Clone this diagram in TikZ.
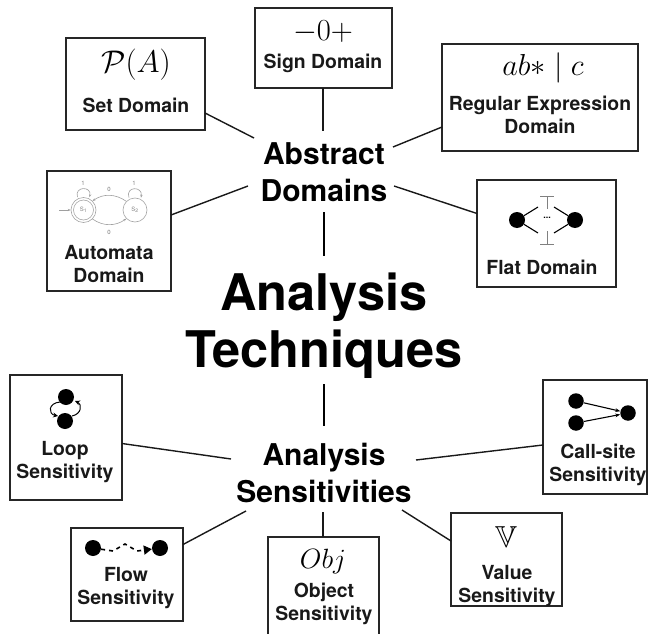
\documentclass[tikz,border=0pt]{standalone}
\usepackage{fontspec}
\usepackage{amsmath,amssymb}
\setmainfont{TeX Gyre Heros}
\usetikzlibrary{arrows.meta,calc}
\tikzset{
 box/.style={draw=black!85,line width=1.3pt,minimum width=#1,inner sep=0pt,outer sep=0pt,anchor=north west},
 lbl/.style={font=\bfseries\fontsize{19.4}{23}\selectfont,align=center,inner sep=0pt,text=black!90},
 mid/.style={font=\bfseries\fontsize{30}{37}\selectfont,align=center,inner sep=0pt},
 big/.style={font=\bfseries\fontsize{50.5}{57}\selectfont,align=center,inner sep=0pt},
 sym/.style={font=\fontsize{24.88}{30}\selectfont,inner sep=0pt},
 conn/.style={line width=1.4pt,black!90},
 hub/.style={line width=2.4pt,black},
 dot/.style={circle,fill=black,inner sep=0pt,minimum size=#1},
 gr/.style={gray!75,line width=0.6pt},
 tiny/.style={font=\fontsize{6}{7}\selectfont,text=gray,inner sep=0pt},
}
\begin{document}
\begin{tikzpicture}[x=1pt,y=-1pt]
\useasboundingbox (0,0) rectangle (651,634);
% boxes
\node[box=139pt,minimum height=92pt] (setb) at (66,38) {};
\node[box=137pt,minimum height=80pt] (signb) at (255,8) {};
\node[box=196pt,minimum height=107pt] (rexb) at (442,44) {};
\node[box=124pt,minimum height=120pt] (autob) at (47,171) {};
\node[box=139pt,minimum height=107pt] (flatb) at (477,180) {};
\node[box=112pt,minimum height=125pt] (loopb) at (10,375) {};
\node[box=112pt,minimum height=93pt] (flowb) at (71,528) {};
\node[box=111pt,minimum height=100pt] (objb) at (268,537) {};
\node[box=111pt,minimum height=93pt] (valb) at (451,513) {};
\node[box=104pt,minimum height=114pt] (callb) at (543,380) {};
% centre texts
\node[mid] (abs) at (324,172) {Abstract\\Domains};
\node[big] (tech) at (324,326) {Analysis\\Techniques};
\node[mid] (sens) at (324,473) {Analysis\\Sensitivities};
% box labels
\node[sym] (setsym) at (136,65) {\scalebox{1.26}{$\mathcal{P}(A)$}};
\node[lbl] (settxt) at (136,105) {Set Domain};
\node[sym] (signsym) at (323,32) {\scalebox{1.23}{$-0+$}};
\node[lbl] (signtxt) at (323,63) {Sign Domain};
\node[sym] (rexsym) at (543,68) {\scalebox{1.22}{$ab{*}\mid c$}};
\node[lbl] (rextxt) at (540,115) {Regular Expression\\Domain};
\node[lbl] (autotxt) at (109,264) {Automata\\Domain};
\node[lbl] (flattxt) at (542,267) {Flat Domain};
\node[lbl] (looptxt) at (65,462) {Loop\\Sensitivity};
\node[lbl] (flowtxt) at (126,588) {Flow\\Sensitivity};
\node[sym] (objsym) at (323,562) {\scalebox{1.12}{$Obj$}};
\node[lbl] (objtxt) at (324,604) {Object\\Sensitivity};
\node[sym] (valsym) at (506,537) {\scalebox{1.22}{$\mathbb{V}$}};
\node[lbl] (valtxt) at (507,586) {Value\\Sensitivity};
\node[lbl] (calltxt) at (598,465) {Call-site\\Sensitivity};
% connectors
\coordinate (a1) at (254,138); \coordinate (a2) at (323,131); \coordinate (a3) at (393,147);
\coordinate (a4) at (248,186); \coordinate (a5) at (394,186);
\coordinate (t1) at (324,212); \coordinate (t2) at (324,256);
\coordinate (t3) at (324,384); \coordinate (t4) at (324,426);
\coordinate (s1) at (231,459); \coordinate (s2) at (416,460); \coordinate (s3) at (246,511);
\coordinate (s4) at (323,512); \coordinate (s5) at (402,510);
\draw[conn] ([yshift=17pt]setb.south east) -- (a1);
\draw[conn] (signb.south -| a2) -- (a2);
\draw[conn] ([yshift=24pt]rexb.south west) -- (a3);
\draw[conn] ([yshift=16pt]autob.east) -- (a4);
\draw[conn] ([yshift=20pt]flatb.west) -- (a5);
\draw[hub] (t1) -- (t2);
\draw[hub] (t3) -- (t4);
\draw[conn] ([yshift=-6pt]loopb.east) -- (s1);
\draw[conn] ([yshift=-8pt]callb.west) -- (s2);
\draw[conn] ([yshift=30pt]flowb.east) -- (s3);
\draw[conn] (objb.north -| s4) -- (s4);
\draw[conn] ([yshift=65pt]valb.south west) -- (s5);
% automata glyph
\node[circle,draw=gray!70,line width=0.6pt,minimum size=25pt,inner sep=0pt] (q1) at (83.5,210) {};
\node[circle,draw=gray!70,line width=0.6pt,minimum size=20pt,inner sep=0pt] (q1i) at (83.5,210) {};
\node[circle,draw=gray!70,line width=0.6pt,minimum size=24pt,inner sep=0pt] (q2) at (135,210) {};
\node[tiny] (q1t) at (83.5,210) {S\textsubscript{1}};
\node[tiny] (q2t) at (135,210) {S\textsubscript{2}};
\node[tiny] (l1) at (83,183) {1};
\node[tiny] (l2) at (134,183) {1};
\node[tiny] (l3) at (109,189) {0};
\node[tiny] (l4) at (109,232) {0};
\coordinate (st) at (59,210);
\draw[gr,-{Stealth[length=3pt]}] (st) -- (q1.west);
\draw[gr,-{Stealth[length=3pt]}] (q2.north west) to[out=145,in=35] (q1.north east);
\draw[gr,-{Stealth[length=3pt]}] (q1.south east) to[out=-35,in=-145] (q2.south west);
\draw[gr,-{Stealth[length=3pt]}] ([xshift=-6pt]q1.north) .. controls (74,186) and (92,186) .. ([xshift=6pt]q1.north);
\draw[gr,-{Stealth[length=3pt]}] ([xshift=-6pt]q2.north) .. controls (125,186) and (143,186) .. ([xshift=6pt]q2.north);
% flat glyph
\node[dot=16pt] (fl) at (517,220) {};
\node[dot=16pt] (fr) at (575,220) {};
\coordinate (tt) at (547,196); \coordinate (bt) at (547,244);
\node[font=\bfseries\fontsize{9}{9}\selectfont,inner sep=0pt] (fd) at (547,218) {...};
\draw[gray,line width=0.9pt] ([xshift=-7pt]tt) -- ([xshift=7pt]tt) (tt) -- ([yshift=-13pt]tt);
\draw[gray,line width=0.9pt] ([xshift=-7pt]bt) -- ([xshift=7pt]bt) (bt) -- ([yshift=13pt]bt);
\coordinate (f1) at (538,207); \coordinate (f2) at (554,207); \coordinate (f3) at (538,233); \coordinate (f4) at (554,233);
\draw[line width=1.1pt] (fl) -- (f1) (fl) -- (f3) (fr) -- (f2) (fr) -- (f4);
% loop glyph
\draw[line width=1pt,-{Stealth[length=5pt,width=5pt]}] (60,402) .. controls (48,403) and (48,414) .. (58,416);
\draw[line width=1pt,-{Stealth[length=5pt,width=5pt]}] (72,416) .. controls (82,414) and (82,404) .. (75,401);
\node[dot=16pt] (lt) at (66,397) {};
\node[dot=16pt] (lb) at (65,421) {};
% flow glyph
\node[dot=16pt] (fa) at (93,548) {};
\node[dot=16pt] (fb) at (160,548) {};
\coordinate (fm) at (125,544);
\draw[line width=1.6pt,dash pattern=on 4pt off 4pt,-{Triangle[length=8pt,width=9pt]}] (fa) -- (113,551) -- (fm) -- (137,551) -- (fb);
% call glyph
\node[dot=15.5pt] (c1) at (576,401) {};
\node[dot=15.5pt] (c2) at (576,423) {};
\node[dot=15.5pt] (c3) at (628,413) {};
\draw[line width=1.1pt,-{Stealth[length=5pt]}] (c1) -- (c3);
\draw[line width=1.1pt,-{Stealth[length=5pt]}] (c2) -- (c3);
\end{tikzpicture}
\end{document}
